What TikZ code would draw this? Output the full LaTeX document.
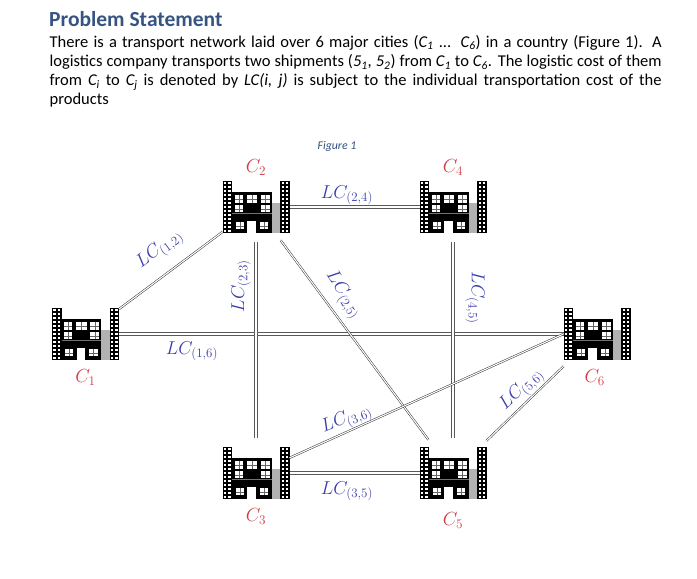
\documentclass[tikz,border=0pt]{standalone}
\usepackage[no-math]{fontspec}
\setmainfont{Carlito}
\usetikzlibrary{positioning}
\definecolor{titleblue}{RGB}{54,84,130}
\definecolor{costblue}{RGB}{58,62,170}
\definecolor{cityred}{RGB}{205,62,72}
\definecolor{figblue}{RGB}{50,80,125}
\newcommand{\ital}[2]{\textit{#1\textsubscript{#2}}}
\tikzset{
  city/.style={
    rectangle,
    inner sep=0pt,
    outer sep=0pt,
    minimum width=67pt,
    minimum height=52pt
  },
  citylabel/.style={text=cityred, font=\LARGE, scale=1.1, inner sep=0pt},
  cost/.style={text=costblue, font=\LARGE, scale=1.08, inner sep=0pt},
  road/.style={draw=black!80, line width=.5pt, double, double distance=1.1pt},
  straightroad/.style={draw=black!65, line width=.8pt, double, double distance=1.5pt},
  gap/.style={shorten >=9pt, shorten <=9pt},
  building/.pic={
    \begin{scope}[shift={(-33.5,-26)}]
      \fill[black] (0,0) rectangle (9.5,52);
      \fill[black] (57.6,0) rectangle (67,52);
      \fill[black] (9.5,11) rectangle (49,52);
      \fill[black!30] (49,21.7) rectangle (57.6,52);
      \draw[black!55, line width=.6pt] (9.5,31.9) -- (49,31.9);
      \foreach \r in {0,...,12} {
        \foreach \c in {1.4,5.6,59,63.2} {
          \fill[white] (\c,{\r*4+1}) rectangle ++(2.4,2.1);
        }
      }
      \foreach \xa/\ya/\xb/\yb in {12.3/14.3/20.3/21.7, 24/14.3/34.7/21.7, 38.3/14.3/47/21.7,
          12.3/24.3/20.3/31, 38.3/24.3/47/31, 13/41.3/21.3/48, 37.3/41.3/45.7/48} {
        \fill[white] (\xa,\ya) rectangle (\xb,\yb);
        \draw[black!60, line width=.3pt] ({(\xa+\xb)/2},\ya) -- ({(\xa+\xb)/2},\yb)
          (\xa,{(\ya+\yb)/2}) -- (\xb,{(\ya+\yb)/2});
      }
      \fill[white] (24.7,40) rectangle (33.3,52);
    \end{scope}
  }
}
\begin{document}
\begin{tikzpicture}[x=1pt,y=-1pt]
  \useasboundingbox (0,0) rectangle (697,579);
  \node[anchor=west, inner sep=0pt, text=titleblue, font=\fontsize{21.5}{24}\selectfont\bfseries] (title) at (49,19) {Problem Statement};
  \node[anchor=north west, inner sep=0pt, text width=612pt, align=justify, font=\fontsize{16.5}{19.2}\selectfont] (body) at (49.5,35) {There is a transport network laid over 6 major cities (\ital{C}{1} ... \ital{C}{6}) in a country (Figure 1). A\linebreak logistics company transports two shipments (\ital{5}{1}, \ital{5}{2}) from \ital{C}{1} to \ital{C}{6}. The logistic cost of them\linebreak from \ital{C}{i} to \ital{C}{j} is denoted by \textit{LC(i, j)} is subject to the individual transportation cost of the\linebreak products};
  \node[inner sep=0pt, text=figblue, font=\fontsize{11.8}{13}\selectfont\itshape] (figure) at (337,146) {Figure 1};

  \foreach \n/\x/\y in {1/85.5/334, 2/256/207, 3/256/473, 4/453/207, 5/453/473, 6/597/334} {
    \node[city] (c\n) at (\x,\y) {};
    \pic at (c\n) {building};
  }

  \node[citylabel, below=9pt of c1] (l1) {$C_1$};
  \node[citylabel, above=5pt of c2] (l2) {$C_2$};
  \node[citylabel, below=9pt of c3] (l3) {$C_3$};
  \node[citylabel, above=5pt of c4] (l4) {$C_4$};
  \node[citylabel, below=13pt of c5] (l5) {$C_5$};
  \node[citylabel, below=9pt of c6, xshift=-2pt] (l6) {$C_6$};

  \draw[road] (c1) -- (c2);
  \draw[straightroad] (c1.east) -- (c6.west);
  \draw[straightroad] (c2) -- (c4);
  \draw[straightroad, gap] (c2) -- (c3);
  \draw[road, gap] (c2) -- (c5);
  \draw[straightroad, gap] (c4) -- (c5);
  \draw[straightroad] (c3) -- (c5);
  \draw[road] (c3) -- (c6.west);
  \draw[road, gap] (c5) -- (c6);

  \node[cost, rotate=37] (lc12) at (160,250) {$LC_{(1,2)}$};
  \node[cost] (lc24) at (347,195) {$LC_{(2,4)}$};
  \node[cost, rotate=90] (lc23) at (241,286) {$LC_{(2,3)}$};
  \node[cost, rotate=-57] (lc25) at (343,295) {$LC_{(2,5)}$};
  \node[cost, rotate=-90] (lc45) at (475,298) {$LC_{(4,5)}$};
  \node[cost] (lc16) at (192,351) {$LC_{(1,6)}$};
  \node[cost, rotate=22] (lc36) at (347,420) {$LC_{(3,6)}$};
  \node[cost] (lc35) at (347,491) {$LC_{(3,5)}$};
  \node[cost, rotate=44] (lc56) at (522,390) {$LC_{(5,6)}$};
\end{tikzpicture}
\end{document}
